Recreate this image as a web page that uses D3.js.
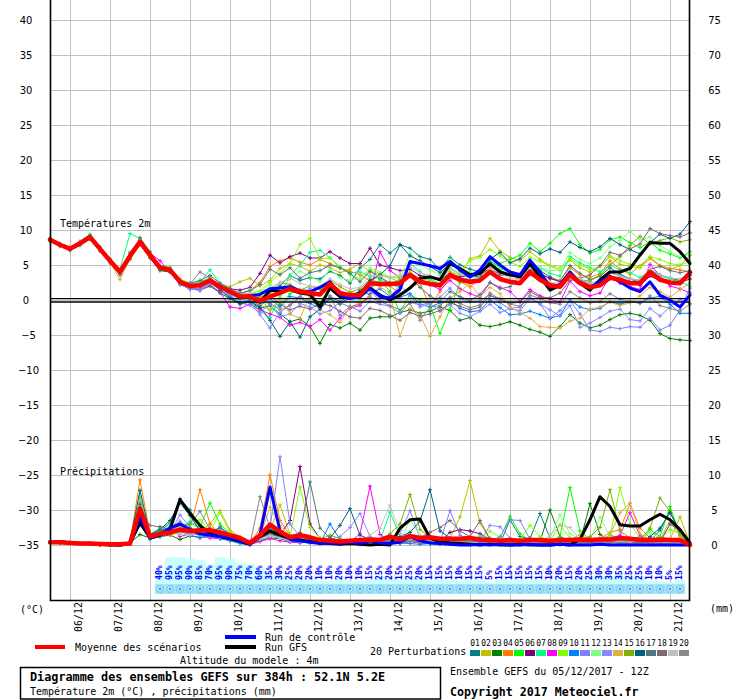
<!DOCTYPE html>
<html><head><meta charset="utf-8">
<script src="https://cdn.jsdelivr.net/npm/d3@7"></script>
<style>body{margin:0;background:#fff}svg{display:block}</style>
</head><body>
<script>
// ---------- DATA ----------
const dates = ["06/12","07/12","08/12","09/12","10/12","11/12","12/12","13/12","14/12","15/12","16/12","17/12","18/12","19/12","20/12","21/12"];
const leftTicks = [40,35,30,25,20,15,10,5,0,-5,-10,-15,-20,-25,-30,-35];
const rightTicks = [75,70,65,60,55,50,45,40,35,30,25,20,15,10,5,0];
const memberNames = ["01","02","03","04","05","06","07","08","09","10","11","12","13","14","15","16","17","18","19","20"];
const memberColors = ["#008080","#c0c000","#008000","#ff8000","#00ff00","#800080","#00ff80","#ff00ff","#80ff00","#0080ff","#8080ff","#80ff80","#8888ff","#e0b040","#80b000","#006080","#507880","#806870","#c0c0c0","#888888"];
const pctLabels = [40,95,95,90,85,70,95,90,75,70,60,35,30,25,20,20,10,10,20,10,10,15,25,20,15,25,20,15,15,15,10,15,15,5,15,15,15,15,15,10,20,15,20,25,30,30,35,25,25,10,10,5,15];

// 2m temperature (°C), every 6h from 05/12 12Z
const tMean = [8.6,7.9,7.3,8.1,9.0,7.3,5.6,4.0,6.3,8.3,6.4,4.6,4.3,2.6,2.0,2.1,2.8,1.9,1.2,0.5,0.5,-0.1,0.5,1.0,1.6,1.2,1.0,0.8,2.3,1.0,0.7,0.7,2.4,2.3,2.3,2.4,3.6,2.6,2.3,2.1,3.6,2.9,2.6,2.8,4.0,3.0,2.6,2.4,4.0,2.9,2.1,1.9,3.6,2.4,1.8,2.1,3.2,2.9,2.4,2.4,4.0,2.9,2.5,2.4,3.9];
const tControl = [8.6,7.9,7.3,8.1,9.0,7.3,5.6,4.0,6.3,8.3,6.4,4.6,4.3,2.6,2.0,2.1,2.8,1.9,1.2,0.5,0.6,0.8,1.6,1.7,1.9,1.3,1.2,1.8,2.6,0.7,0.2,0.5,1.7,0.5,0.3,1.5,5.5,5.2,4.9,4.5,5.5,4.3,3.3,4.3,6.2,5.0,4.0,3.6,5.7,4.0,1.9,2.2,4.0,2.4,1.8,2.6,3.4,2.6,1.7,1.2,2.6,0.7,0.0,-1.0,0.7];
const tGfs = [8.7,7.9,7.3,8.1,9.0,7.3,5.6,4.0,6.3,8.3,6.4,4.6,4.3,2.6,2.0,2.1,2.8,1.9,1.2,0.5,0.4,-0.3,1.4,1.2,1.5,1.0,0.8,-1.0,1.7,0.5,0.4,1.0,1.7,0.7,0.0,0.7,1.7,3.1,3.3,2.9,5.2,4.5,3.6,3.8,5.2,4.0,3.6,3.3,5.2,3.3,1.4,2.1,3.6,2.4,1.4,2.9,4.0,4.0,4.5,6.4,8.2,8.1,8.1,6.9,5.2];
const t01 = [8.7,7.8,7.2,8.3,9.3,7.5,5.4,3.8,6.8,8.6,6.2,4.3,4.0,2.9,2.2,2.6,3.1,2.0,0.9,0.1,0.8,-0.5,1.2,2.0,3.5,2.8,3.2,3.0,4.1,3.5,2.4,4.6,5.8,7.9,6.7,7.9,7.4,6.2,5.8,4.3,6.1,5.0,4.4,4.0,5.5,4.8,3.9,3.6,5.4,4.2,3.3,2.7,4.9,3.8,2.9,3.4,4.6,3.7,3.0,2.5,4.3,3.6,3.1,2.8,3.5];
const t02 = [8.5,8.0,7.5,8.0,8.8,7.1,5.7,4.3,6.0,8.0,6.6,4.9,4.6,3.0,2.4,2.2,3.0,2.3,1.9,2.6,3.1,2.0,2.8,4.5,5.2,4.8,4.1,5.0,4.6,3.9,4.4,5.2,4.0,3.6,3.2,2.5,3.9,3.1,2.8,2.2,4.1,3.5,5.9,6.3,8.8,7.0,6.1,5.6,6.9,5.8,4.9,4.2,5.7,4.6,4.0,4.8,6.2,5.1,4.8,4.6,5.9,4.9,4.4,4.9,6.4];
const t03 = [8.8,7.9,7.1,7.8,8.7,7.0,5.3,3.6,5.8,8.0,6.0,4.2,4.0,2.2,1.6,1.4,2.0,1.0,0.2,-0.6,-0.3,-1.2,-0.8,-2.0,-3.1,-2.7,-3.8,-6.2,-3.5,-4.0,-3.3,-4.3,-2.6,-2.4,-2.4,-1.8,-1.4,-1.9,-1.6,-1.0,-1.5,-2.9,-2.5,-3.6,-3.8,-3.5,-3.1,-3.6,-4.2,-4.6,-5.2,-3.8,-2.1,-3.3,-4.0,-3.6,-2.8,-2.1,-1.9,-2.2,-2.9,-4.8,-5.5,-5.7,-5.8];
const t04 = [8.6,7.7,7.4,8.2,9.1,7.4,5.8,4.1,6.2,8.2,6.5,4.7,4.5,2.8,2.1,2.3,2.9,2.2,1.5,0.7,1.4,2.5,4.8,5.6,6.0,5.4,5.0,5.8,5.2,4.6,4.1,3.6,2.7,3.5,2.0,0.9,1.8,2.4,-0.9,1.2,3.2,2.6,1.9,3.0,4.7,4.2,3.6,3.1,4.5,3.9,3.0,2.8,4.6,3.6,3.2,3.8,5.6,4.4,3.7,4.9,6.1,4.9,4.5,4.3,4.0];
const t05 = [8.5,7.9,7.4,8.0,8.9,7.2,5.5,3.9,6.5,8.5,6.3,4.4,4.2,2.5,1.8,2.0,2.6,1.7,1.0,0.3,0.6,0.2,-1.5,-0.8,0.9,1.5,0.6,-0.4,1.8,0.5,0.9,0.2,1.5,2.9,1.2,-1.7,0.8,0.0,-0.6,-4.8,-1.3,2.5,3.4,4.1,6.0,5.2,5.8,6.4,8.1,6.9,8.1,9.5,10.2,7.9,6.7,7.2,8.6,9.0,8.2,7.5,8.3,7.1,6.6,6.0,6.9];
const t06 = [8.7,8.0,7.3,8.1,9.0,7.4,5.5,3.9,6.4,8.4,6.5,4.6,4.4,2.7,2.1,2.3,3.0,2.1,1.6,1.4,1.8,3.8,6.4,5.3,6.2,6.7,6.0,6.0,6.9,6.0,5.2,5.2,7.4,5.0,4.6,4.2,4.4,3.5,3.3,3.0,3.7,3.3,3.4,3.6,4.5,3.6,3.5,3.2,4.4,3.7,3.1,2.6,3.5,2.8,2.1,2.3,3.1,2.5,2.6,2.1,3.4,2.8,2.6,2.5,3.0];
const t07 = [8.6,7.8,7.5,8.4,9.4,7.6,5.9,4.4,9.5,8.8,6.4,4.4,4.2,2.7,2.4,2.5,4.3,2.4,1.3,0.2,-0.2,-1.6,-2.5,0.6,3.5,5.0,6.8,7.1,6.0,4.6,3.9,4.0,3.4,3.0,2.2,1.8,5.2,4.1,3.0,2.3,4.6,3.7,3.2,3.5,5.6,4.5,3.9,3.3,4.7,4.6,3.8,3.4,6.2,5.3,4.6,4.0,5.0,4.3,3.9,3.2,4.2,3.5,3.0,2.6,2.0];
const t08 = [8.6,7.9,7.3,8.0,8.8,7.2,5.6,4.1,6.1,8.0,6.7,5.6,4.0,2.4,1.7,1.6,2.2,1.1,-1.0,-1.2,-0.6,-1.4,-2.0,-2.5,-3.6,-3.2,-3.8,-2.8,-4.3,-2.6,-1.2,-0.8,0.8,6.9,4.2,3.2,3.9,2.6,2.2,1.5,2.8,1.6,0.9,0.4,2.5,1.8,1.2,-0.2,1.5,0.6,0.1,-0.3,2.7,1.2,0.6,1.0,3.4,2.4,1.9,1.5,5.1,3.5,2.0,1.6,1.0];
const t09 = [8.4,7.8,7.4,8.2,9.2,7.5,5.7,4.2,6.6,8.7,6.8,4.8,4.7,2.9,2.2,2.4,3.2,2.0,1.1,0.4,0.9,1.3,2.5,3.8,5.2,7.9,8.8,5.9,6.0,4.8,3.6,3.0,4.3,3.8,3.1,3.4,4.0,2.9,2.5,2.2,3.5,4.1,5.6,6.1,7.2,6.3,5.4,4.8,6.1,5.5,4.9,4.6,5.9,5.0,4.4,4.8,6.3,5.6,5.1,4.7,6.2,5.8,5.2,5.0,5.5];
const t10 = [8.7,7.9,7.2,8.0,8.9,7.3,5.6,3.9,6.2,8.1,6.3,4.5,4.2,2.5,1.9,2.0,2.7,1.8,0.7,-0.4,0.0,-0.8,0.2,-1.0,0.5,0.3,-0.5,-1.2,0.4,-0.2,0.6,1.2,0.8,1.6,0.5,0.4,0.9,-0.6,-1.0,-0.4,0.0,-1.2,-1.7,-1.5,0.0,-1.1,-2.1,-2.0,-1.6,-2.1,-2.6,-2.2,0.0,-1.0,-1.4,-1.2,-0.2,-0.6,-0.2,-0.4,0.3,0.5,-0.6,-1.9,-1.9];
const t11 = [8.5,7.7,7.1,7.9,8.8,7.0,5.4,3.7,6.0,7.9,6.1,4.4,4.1,2.3,1.5,1.7,2.4,1.5,0.4,-0.5,-0.3,-2.1,-4.0,-1.8,-0.7,0.4,1.7,-1.2,0.5,-2.2,-0.9,-1.6,-0.2,-0.6,-0.9,-1.9,-0.3,-0.7,-0.4,0.4,1.7,0.2,-0.3,-0.1,0.8,-0.4,-1.3,-1.5,0.2,-0.5,-2.6,-1.5,-0.1,-2.0,-4.3,-4.5,-3.9,-4.1,-3.8,-3.9,-2.6,-4.3,-3.6,-1.4,1.7];
const t12 = [8.6,8.0,7.4,8.2,9.1,7.4,5.7,4.2,6.5,8.4,6.4,4.6,4.4,2.8,2.1,2.2,3.0,2.0,1.3,0.9,1.5,1.0,2.2,1.5,3.0,4.1,3.4,2.6,4.4,3.2,2.8,3.1,4.6,4.0,3.3,3.0,6.7,5.1,4.3,3.5,5.8,4.6,4.0,3.6,5.8,4.7,4.1,3.7,5.4,4.7,4.2,4.3,6.8,5.8,5.2,6.0,7.6,8.5,9.8,8.6,9.0,7.8,6.9,6.2,6.5];
const t13 = [8.7,7.8,7.2,8.0,8.9,7.1,5.5,3.8,6.1,8.0,6.2,4.5,4.1,2.4,1.7,1.3,2.4,1.6,0.6,-0.4,-0.8,-1.8,-0.6,-2.4,-2.0,-0.5,-1.0,-2.0,-1.5,-0.3,0.2,0.8,1.4,-0.2,0.5,2.1,0.6,-1.0,-0.5,-1.6,-0.7,-1.9,-2.4,-1.6,-0.6,-1.8,-1.2,-1.0,0.4,-0.6,-1.4,-2.3,-0.8,-3.9,-3.3,-2.5,-1.6,-1.3,-2.8,-3.0,-1.2,-2.3,-1.0,0.1,-0.5];
const t14 = [8.8,8.1,7.6,8.3,9.0,7.2,5.4,2.9,5.9,8.1,6.5,4.7,4.3,2.7,2.0,2.2,2.9,1.8,1.0,0.4,0.1,-0.6,-1.5,0.3,-2.0,-2.6,0.7,-1.4,-2.1,-3.2,-1.0,-0.4,0.6,1.9,0.9,-5.2,-1.2,-2.1,-5.2,-2.4,0.3,1.2,2.4,0.5,1.8,0.9,-1.0,-1.8,-2.6,-3.8,-3.9,-4.0,-3.0,-2.6,-1.3,-1.0,-0.3,-0.8,-0.4,0.6,1.8,1.2,0.4,1.5,2.4];
const t15 = [8.5,7.9,7.4,8.1,9.0,7.3,5.6,4.0,6.3,8.2,6.4,4.6,4.3,2.6,2.0,2.1,2.8,1.9,1.2,0.8,0.9,0.4,1.0,2.5,2.2,1.4,2.0,1.5,2.8,1.9,1.1,1.6,3.0,2.4,2.2,2.9,3.5,2.6,2.4,2.0,3.8,3.0,2.8,3.0,4.4,3.2,2.7,2.5,3.6,2.8,2.2,2.0,3.4,2.9,2.7,3.6,5.0,6.2,7.8,9.1,8.0,8.5,8.9,8.3,8.6];
const t16 = [8.6,7.9,7.3,8.2,9.1,7.4,5.7,4.0,6.3,8.3,6.4,4.5,4.2,2.6,1.9,2.0,2.6,1.4,0.3,-0.5,-0.2,-1.0,-2.9,-5.2,-3.1,-5.3,-2.4,-1.3,0.2,-0.6,0.4,1.3,2.8,3.6,4.9,7.9,6.3,5.6,4.8,3.9,5.1,4.2,3.6,3.2,5.8,6.8,5.3,5.9,7.4,6.6,7.3,6.8,8.3,7.5,6.9,7.6,8.8,7.9,7.2,6.6,8.2,9.4,8.8,9.4,11.2];
const t17 = [8.6,7.8,7.2,8.0,9.1,7.5,5.8,3.9,6.0,8.9,6.9,4.9,4.6,2.5,2.4,2.8,3.5,2.4,1.6,1.0,1.3,2.2,4.4,3.6,4.6,3.1,3.9,4.2,5.0,4.6,3.8,2.6,4.1,3.2,2.5,2.0,3.4,1.8,0.6,-0.2,1.2,0.5,-0.1,0.8,2.5,1.6,1.9,3.4,4.6,3.2,2.3,1.9,3.8,2.9,2.4,2.7,4.0,3.4,3.0,2.8,4.4,4.8,4.2,3.9,4.2];
const t18 = [8.7,8.0,7.3,8.1,8.9,7.2,5.6,4.0,6.4,8.3,6.4,4.6,4.3,2.6,2.1,2.0,2.6,1.7,1.1,0.6,0.2,-0.4,0.6,-0.6,-1.4,-0.9,-1.3,-0.5,-0.8,-1.6,-2.4,-2.6,-1.2,-1.5,-2.2,-2.9,-1.8,-2.3,-2.0,-1.5,-0.4,-0.9,-1.4,-1.0,0.6,0.2,-0.5,-0.3,1.2,0.4,0.3,1.0,2.8,3.1,3.6,4.9,6.8,6.4,7.3,8.0,10.2,9.5,9.2,9.0,9.6];
const t19 = [8.6,7.9,7.4,8.1,9.0,7.3,5.6,4.0,6.3,8.4,6.5,4.7,4.4,2.7,2.1,2.2,2.9,2.0,1.3,0.7,1.0,0.8,1.7,2.5,3.1,2.4,2.0,1.9,3.0,2.2,1.6,1.8,3.6,3.4,3.2,3.6,4.8,3.9,3.5,3.1,4.4,3.7,3.2,3.1,4.5,3.8,3.1,3.0,4.6,3.6,2.5,2.4,4.1,3.0,2.4,2.6,3.9,3.4,3.0,2.9,4.5,3.6,3.2,3.0,3.8];
const t20 = [8.5,7.8,7.2,8.0,8.9,7.3,5.7,4.1,6.2,8.2,6.6,4.8,4.5,2.8,2.3,4.0,3.1,2.1,1.0,0.2,0.4,-0.2,-0.5,-1.4,-0.8,0.5,-0.2,-0.9,0.6,-0.4,-1.0,-0.6,0.4,-0.2,-0.8,-1.4,-0.5,-2.9,-1.0,-0.8,0.4,-0.5,-1.1,-0.7,1.0,0.1,-0.6,-0.9,0.7,0.2,-0.4,-0.6,1.2,0.3,-0.4,-0.2,0.9,0.1,-0.2,-0.5,0.6,-0.8,-1.2,-1.6,-0.6];

// precipitation (mm / 6h)
const pMean = [0.4,0.4,0.3,0.2,0.2,0.15,0.1,0.1,0.2,5.2,1.2,1.6,1.8,2.2,2.0,2.1,2.1,1.8,1.4,1.0,0.3,1.4,2.9,1.9,1.1,1.4,1.1,0.7,0.6,0.5,0.6,0.7,0.8,0.7,1.2,0.8,1.3,1.0,1.1,0.9,0.9,0.9,1.0,0.8,0.7,0.6,0.7,0.6,0.7,0.7,0.6,0.7,0.7,0.8,0.7,0.8,0.8,1.0,0.9,0.7,0.7,0.8,0.7,0.7,0.0];
const pControl = [0.4,0.4,0.3,0.2,0.2,0.1,0.1,0.0,0.2,4.0,1.0,1.6,2.4,3.0,2.2,1.6,1.4,1.2,1.0,0.6,0.1,1.5,8.3,2.0,0.8,0.6,0.4,0.2,0.3,0.2,0.4,0.2,0.6,0.3,0.2,0.4,1.2,0.6,0.3,0.2,0.1,0.0,0.0,0.1,0.0,0.1,0.0,0.0,0.1,0.0,0.0,0.1,0.0,0.0,0.0,0.1,0.0,0.0,0.0,0.0,0.0,0.0,0.0,0.0,0.0];
const pGfs = [0.4,0.5,0.3,0.2,0.2,0.1,0.0,0.0,0.2,3.2,1.0,1.4,2.2,6.5,4.5,2.8,1.6,1.2,0.9,0.5,0.1,1.2,2.0,1.4,0.9,0.7,0.5,0.3,0.2,0.1,0.2,0.1,0.0,0.1,0.0,2.4,3.6,3.7,1.0,0.5,0.3,0.2,0.1,0.0,0.1,0.0,0.0,0.1,0.0,0.0,0.0,0.1,0.0,0.8,3.6,6.9,5.5,2.9,2.7,2.7,3.6,4.4,3.6,2.2,0.3];
const p01 = [0.4,0.4,0.3,0.2,0.2,0.1,0.1,0.0,0.4,6.0,1.4,2.0,3.1,6.6,5.0,2.6,1.8,2.4,1.6,0.9,0.2,1.1,2.8,1.5,0.8,1.2,0.9,0.4,0.3,0.2,0.5,0.4,0.6,0.3,0.9,0.5,1.1,0.7,0.9,0.4,0.6,0.5,0.7,0.3,0.4,0.2,3.6,1.2,0.9,4.5,1.0,0.3,0.5,0.7,0.3,0.2,1.4,0.5,0.8,0.3,0.6,2.1,4.9,1.4,0.0];
const p02 = [0.4,0.3,0.3,0.2,0.1,0.1,0.1,0.1,0.3,5.5,1.0,1.3,1.6,2.0,2.4,1.8,3.0,4.9,2.1,1.2,0.3,1.6,2.1,5.7,1.5,1.0,0.8,0.4,0.6,0.5,0.3,0.2,1.0,0.6,0.4,0.9,1.4,0.6,0.8,0.5,0.9,4.0,9.2,3.1,0.8,0.3,0.5,0.3,0.6,0.4,0.2,0.3,0.6,1.5,0.7,0.4,1.1,0.5,0.3,0.4,0.6,1.2,0.8,4.0,0.2];
const p03 = [0.4,0.4,0.3,0.2,0.2,0.1,0.1,0.1,0.3,1.5,1.0,1.2,1.4,0.8,1.3,1.1,1.2,1.0,0.8,0.6,0.1,0.6,1.0,0.9,0.5,0.7,0.4,0.3,0.5,0.3,0.2,0.1,0.3,0.2,0.4,0.2,0.5,0.3,0.2,0.1,0.3,0.2,0.4,0.1,0.2,0.3,0.4,0.2,1.0,0.5,5.0,1.2,0.6,0.4,5.9,1.5,0.6,0.4,0.3,0.2,0.5,0.3,0.2,0.4,0.0];
const p04 = [0.4,0.4,0.3,0.2,0.2,0.2,0.1,0.1,0.4,9.3,1.6,2.0,1.4,1.8,2.5,7.9,3.0,1.6,1.2,0.8,0.2,2.4,10.0,3.5,1.4,1.0,0.8,0.6,0.4,0.5,0.3,0.6,0.4,0.3,0.9,0.4,1.2,0.7,0.5,0.3,0.2,0.4,0.6,0.3,0.2,0.4,0.3,0.2,0.4,0.3,0.2,0.5,0.4,0.6,0.3,0.9,1.8,2.2,5.9,2.4,1.0,0.5,3.0,2.2,0.1];
const p05 = [0.4,0.4,0.3,0.2,0.2,0.1,0.1,0.1,0.3,3.0,1.4,2.2,1.8,2.0,3.1,2.6,6.0,3.0,1.6,1.0,0.2,1.0,1.5,1.2,0.8,0.6,1.0,0.5,0.4,0.3,0.2,0.6,0.5,0.4,0.3,0.6,0.8,0.4,0.5,0.3,0.5,0.6,0.4,0.8,0.5,1.0,4.1,1.6,0.6,0.4,0.5,1.2,8.2,2.0,0.8,0.4,1.5,0.8,0.6,0.4,2.2,1.2,5.5,1.5,0.0];
const p06 = [0.4,0.3,0.3,0.2,0.2,0.1,0.1,0.1,0.3,4.8,1.2,1.5,1.9,2.2,1.8,1.6,2.4,1.5,1.2,0.8,0.2,1.2,2.0,1.5,3.5,11.2,3.0,0.9,0.6,0.4,0.3,0.5,0.8,0.6,0.4,0.3,0.7,0.5,0.6,0.4,1.8,2.2,2.0,1.6,0.8,0.5,0.6,0.4,0.5,0.3,0.4,0.2,0.5,0.3,0.4,0.2,0.6,0.4,0.7,1.2,0.8,0.5,0.6,0.4,0.0];
const p07 = [0.4,0.4,0.3,0.2,0.2,0.1,0.1,0.1,0.4,7.0,1.5,2.5,3.0,2.4,3.4,2.2,1.8,2.0,1.5,0.9,0.3,1.5,2.5,1.8,1.0,1.3,0.9,0.6,0.4,0.3,0.6,0.5,1.0,0.6,4.7,1.2,0.8,0.6,0.5,0.4,0.6,0.8,0.5,1.3,1.0,0.6,0.4,0.3,0.5,0.4,0.3,0.6,0.5,0.4,0.3,0.8,0.6,0.5,0.4,0.3,0.5,0.4,0.3,0.2,0.0];
const p08 = [0.4,0.4,0.3,0.2,0.2,0.1,0.1,0.1,0.3,4.0,1.0,1.4,2.6,1.2,1.6,1.4,1.0,0.9,0.7,0.5,0.1,0.5,0.9,0.6,0.4,0.3,0.5,0.2,0.3,0.2,0.4,1.6,8.4,1.5,0.6,0.4,0.5,0.3,0.4,0.2,0.3,0.5,0.4,0.2,0.3,0.2,0.3,0.1,0.2,0.3,0.4,0.2,0.3,0.5,0.4,0.6,0.9,1.4,4.6,1.3,0.6,0.5,0.3,0.2,0.0];
const p09 = [0.4,0.4,0.3,0.2,0.2,0.1,0.1,0.1,0.3,5.0,1.2,1.8,2.4,1.6,2.8,3.6,2.0,4.6,1.8,1.0,0.3,1.4,3.0,2.0,1.2,8.3,2.5,1.0,0.6,0.4,0.3,0.5,0.4,0.8,0.6,0.5,0.9,0.7,0.4,0.5,0.6,0.3,0.5,0.4,2.0,1.1,0.6,0.8,2.8,1.2,0.6,2.9,1.0,0.5,0.4,0.7,1.2,8.2,3.0,1.0,0.6,0.9,2.2,1.6,0.2];
const p10 = [0.4,0.4,0.3,0.2,0.2,0.1,0.1,0.1,0.3,3.5,0.8,1.2,1.6,2.0,1.4,1.0,1.3,0.9,0.6,0.2,0.0,0.8,1.6,1.0,0.6,0.4,0.3,0.2,3.0,0.8,0.4,0.2,0.6,0.4,0.2,0.3,0.2,0.1,0.2,0.3,0.1,0.2,0.1,0.0,0.1,0.2,0.1,0.0,0.1,0.2,0.1,0.0,0.2,0.1,0.3,0.2,0.1,0.2,0.1,0.2,0.1,0.2,0.1,0.1,0.0];
const p11 = [0.4,0.4,0.3,0.2,0.2,0.1,0.1,0.1,0.3,4.2,1.2,1.6,2.4,3.4,2.2,1.6,1.4,1.2,1.0,0.6,0.2,1.0,2.4,12.6,3.0,1.2,0.8,0.6,0.5,0.4,0.3,0.6,0.5,0.4,0.8,1.6,4.9,1.0,0.6,0.4,4.9,1.4,0.8,1.0,0.6,1.2,3.6,3.5,0.8,0.5,0.3,0.4,0.6,0.4,0.3,0.5,0.4,0.3,0.6,0.4,0.3,0.5,0.4,0.3,0.0];
const p12 = [0.4,0.4,0.3,0.2,0.2,0.1,0.1,0.1,0.3,3.8,1.0,1.6,2.0,2.6,1.8,1.4,1.6,1.2,0.9,0.5,0.2,0.9,1.4,1.0,0.6,0.8,0.5,0.4,0.6,0.3,0.4,0.5,0.3,0.4,0.6,0.5,3.6,1.4,0.8,0.6,0.5,0.4,0.6,0.4,0.3,0.5,0.6,0.4,0.8,0.6,1.0,4.3,1.6,0.8,0.7,4.0,1.2,0.8,0.6,0.5,1.8,1.0,0.6,0.8,0.0];
const p13 = [0.4,0.4,0.3,0.2,0.2,0.1,0.1,0.1,0.3,3.2,1.1,1.4,1.8,4.3,2.5,1.5,1.2,1.0,0.8,0.6,0.2,0.8,1.2,1.0,0.7,0.5,0.4,0.6,0.8,1.2,2.5,4.5,1.2,0.6,0.5,0.4,0.6,0.5,0.4,0.6,0.5,0.4,0.3,0.5,2.8,2.6,1.0,0.6,0.4,0.5,0.3,0.4,0.3,0.5,0.4,0.3,0.5,0.4,0.3,0.4,0.3,0.5,0.4,0.3,0.0];
const p14 = [0.4,0.4,0.3,0.2,0.2,0.1,0.1,0.1,0.3,6.5,1.3,1.8,2.2,2.8,2.0,1.6,1.4,1.6,1.3,0.7,0.2,1.3,5.4,2.8,1.2,1.0,0.7,0.5,0.4,0.6,0.3,0.5,0.4,0.7,0.5,0.8,0.6,0.4,0.7,0.5,0.6,0.4,0.5,0.3,0.4,0.2,0.3,0.4,0.5,0.3,0.2,0.4,0.3,0.6,0.5,0.8,1.4,4.6,6.0,1.6,0.7,0.6,3.6,1.2,0.0];
const p15 = [0.4,0.4,0.3,0.2,0.2,0.1,0.1,0.1,0.3,4.4,1.1,1.5,2.0,1.8,2.2,1.7,1.5,1.3,1.0,0.6,0.1,1.0,1.8,1.3,0.9,0.6,0.5,0.8,1.4,0.9,0.6,0.4,0.5,0.7,1.6,3.0,7.2,2.2,1.0,0.6,0.5,0.3,0.4,0.6,0.3,0.2,0.4,0.3,0.5,0.4,0.3,0.2,0.5,0.6,1.2,2.5,7.9,2.0,1.0,0.8,2.4,6.7,4.8,1.5,0.0];
const p16 = [0.4,0.4,0.3,0.2,0.2,0.1,0.1,0.1,0.4,7.8,1.5,2.2,3.5,6.0,4.2,2.0,1.6,1.8,1.4,0.8,0.2,1.2,2.4,1.5,0.9,1.6,0.8,0.6,1.0,2.8,5.2,1.4,0.8,0.6,1.0,1.2,1.8,3.4,7.9,2.0,1.0,0.6,0.5,0.8,0.6,0.4,0.3,0.6,0.5,0.4,0.3,0.2,0.5,0.6,0.4,0.3,0.6,0.5,0.4,0.3,1.2,2.4,4.6,2.0,0.0];
const p17 = [0.4,0.4,0.3,0.2,0.2,0.1,0.1,0.1,0.3,5.8,1.4,2.0,2.6,3.0,2.4,1.8,1.6,2.6,1.4,0.9,0.2,1.2,1.6,1.4,1.0,1.8,9.0,2.4,1.0,0.6,0.5,0.4,0.6,0.5,0.7,0.4,0.6,0.5,0.8,0.4,0.3,0.5,0.4,0.6,0.5,0.4,0.3,0.5,0.4,0.6,0.3,0.5,0.4,0.3,0.6,0.4,0.3,0.5,0.4,0.3,0.6,0.4,3.0,2.0,0.0];
const p18 = [0.4,0.4,0.3,0.2,0.2,0.1,0.1,0.1,0.3,4.6,2.8,2.6,2.2,2.0,1.8,1.5,1.6,1.3,1.1,0.7,0.2,1.0,1.6,1.2,0.8,0.7,0.5,0.4,0.6,0.5,0.4,0.3,0.6,0.5,0.4,0.6,0.5,1.0,1.8,2.5,3.5,2.0,1.2,3.5,0.8,0.5,0.4,0.6,0.5,0.4,0.3,0.5,0.4,0.3,0.5,0.4,0.3,0.6,0.4,0.5,0.3,0.4,0.3,0.2,0.0];
const p19 = [0.4,0.4,0.3,0.2,0.2,0.1,0.1,0.1,0.3,3.6,1.2,1.5,1.8,1.6,1.4,1.8,2.0,1.7,1.4,0.8,0.2,0.9,1.3,1.0,0.7,0.6,0.5,0.4,0.5,0.4,0.3,0.6,1.4,2.4,5.7,1.6,0.8,0.6,0.5,0.4,0.6,0.5,0.4,0.3,0.5,0.4,0.6,0.5,0.4,0.3,1.5,2.8,2.5,0.8,0.5,0.4,0.6,0.5,0.4,0.6,0.5,0.4,0.3,0.2,0.0];
const p20 = [0.4,0.4,0.3,0.2,0.2,0.1,0.1,0.1,0.3,2.8,1.0,1.4,2.0,2.8,3.0,4.8,2.2,1.6,1.2,0.8,0.2,6.9,2.4,1.6,1.0,0.8,0.6,0.5,0.4,0.6,0.5,0.4,0.3,0.5,0.4,0.3,0.6,0.4,0.5,0.3,0.4,0.6,0.5,0.4,0.3,0.2,0.4,0.3,0.5,0.4,0.3,0.2,0.4,0.3,0.2,0.3,0.4,0.3,0.2,0.3,0.2,0.3,0.2,0.1,0.0];

const tMembers = [t01,t02,t03,t04,t05,t06,t07,t08,t09,t10,t11,t12,t13,t14,t15,t16,t17,t18,t19,t20];
const pMembers = [p01,p02,p03,p04,p05,p06,p07,p08,p09,p10,p11,p12,p13,p14,p15,p16,p17,p18,p19,p20];

// ---------- DRAWING ----------
const W = 740, H = 700;
const mono = "'DejaVu Sans Mono', monospace";
const sans = "'DejaVu Sans', sans-serif";
const svg = d3.select("body").append("svg").attr("width", W).attr("height", H);
svg.append("rect").attr("width", W).attr("height", H).attr("fill", "#fff");

const x = d3.scaleLinear().domain([0, 384]).range([50, 690]);
const yT = d3.scaleLinear().domain([-35, 40]).range([545, 20]);
const yP = d3.scaleLinear().domain([0, 75]).range([545, 20]);
const hourOf = i => i * 6;
const dateHours = dates.map((d, k) => 12 + 24 * k);
const pctHours = pctLabels.map((p, k) => 66 + 6 * k);
const pctBar = d3.scaleLinear().domain([0, 100]).range([584, 556]);

// grid
const grid = svg.append("g").attr("stroke", "#c0c0c0").attr("stroke-width", 1);
grid.selectAll("line.h").data(leftTicks).join("line")
  .attr("x1", 50).attr("x2", 690).attr("y1", d => Math.round(yT(d)) + 0.5).attr("y2", d => Math.round(yT(d)) + 0.5);
grid.selectAll("line.v").data(dateHours).join("line")
  .attr("x1", d => Math.round(x(d)) + 0.5).attr("x2", d => Math.round(x(d)) + 0.5).attr("y1", 0).attr("y2", 600);

// precipitation probability bars + labels + snow band
svg.append("g").selectAll("rect").data(pctLabels).join("rect")
  .attr("x", (d, k) => x(pctHours[k]) - 5).attr("width", 10)
  .attr("y", d => pctBar(d)).attr("height", d => 584 - pctBar(d))
  .attr("fill", "#c8ffff");

const defs = svg.append("defs");
const pat = defs.append("pattern").attr("id", "snow").attr("patternUnits", "userSpaceOnUse")
  .attr("x", 155).attr("y", 584).attr("width", 10).attr("height", 10);
pat.append("rect").attr("width", 10).attr("height", 10).attr("fill", "#a8e4f8");
pat.append("circle").attr("cx", 5).attr("cy", 5).attr("r", 4).attr("fill", "#6cc8f0");
pat.append("path").attr("d", "M5,1.5V8.5M1.5,5H8.5M2.5,2.5L7.5,7.5M7.5,2.5L2.5,7.5").attr("stroke", "#e8f8ff").attr("stroke-width", 1);
pat.append("circle").attr("cx", 5).attr("cy", 5).attr("r", 1.2).attr("fill", "#3a9ee0");
svg.append("rect").attr("x", x(pctHours[0]) - 5).attr("y", 584)
  .attr("width", x(pctHours[pctHours.length - 1]) - x(pctHours[0]) + 10).attr("height", 10)
  .attr("fill", "url(#snow)");

svg.append("g").selectAll("text").data(pctLabels).join("text")
  .attr("transform", (d, k) => `translate(${x(pctHours[k])},580) rotate(-90)`)
  .attr("x", 0).attr("y", 2)
  .attr("font-family", mono).attr("font-size", 8.2).attr("font-weight", "bold")
  .attr("fill", "#0000ff").attr("text-anchor", "start")
  .text(d => d + "%");

// member lines
const lineT = d3.line().x((d, i) => x(hourOf(i))).y(d => yT(d));
const lineP = d3.line().x((d, i) => x(hourOf(i))).y(d => yP(d));
const crossPath = (vals, ys) => vals.map((v, i) => {
  const cx = x(hourOf(i)), cy = ys(v);
  return `M${cx - 2},${cy}h4M${cx},${cy - 2}v4`;
}).join("");

const mg = svg.append("g").attr("fill", "none");
tMembers.forEach((vals, m) => {
  mg.append("path").attr("d", lineT(vals)).attr("stroke", memberColors[m]).attr("stroke-width", 1);
  mg.append("path").attr("d", crossPath(vals, yT)).attr("stroke", memberColors[m]).attr("stroke-width", 1);
});
pMembers.forEach((vals, m) => {
  mg.append("path").attr("d", lineP(vals)).attr("stroke", memberColors[m]).attr("stroke-width", 1);
  mg.append("path").attr("d", crossPath(vals, yP)).attr("stroke", memberColors[m]).attr("stroke-width", 1);
});

// zero double line
svg.append("line").attr("x1", 50).attr("x2", 690).attr("y1", yT(0) - 1.3).attr("y2", yT(0) - 1.3).attr("stroke", "#000").attr("stroke-width", 1.3);
svg.append("line").attr("x1", 50).attr("x2", 690).attr("y1", yT(0) + 2).attr("y2", yT(0) + 2).attr("stroke", "#000").attr("stroke-width", 1.3);

// GFS, control, mean
const bold = svg.append("g").attr("fill", "none").attr("stroke-linejoin", "round").attr("stroke-linecap", "round");
bold.append("path").attr("d", lineT(tGfs)).attr("stroke", "#000").attr("stroke-width", 3);
bold.append("path").attr("d", lineP(pGfs)).attr("stroke", "#000").attr("stroke-width", 3);
bold.append("path").attr("d", lineT(tControl)).attr("stroke", "#0000ff").attr("stroke-width", 3);
bold.append("path").attr("d", lineP(pControl)).attr("stroke", "#0000ff").attr("stroke-width", 3);
bold.append("path").attr("d", lineT(tMean)).attr("stroke", "#ff0000").attr("stroke-width", 4.5);
bold.append("path").attr("d", lineP(pMean)).attr("stroke", "#ff0000").attr("stroke-width", 4.5);

// frame
svg.append("path").attr("d", "M50.5,0V600.5H689.5V0").attr("fill", "none").attr("stroke", "#000").attr("stroke-width", 1.6);

// axes
const axL = svg.append("g").attr("transform", "translate(50,0)")
  .call(d3.axisLeft(yT).tickValues(leftTicks).tickSize(0).tickFormat(d3.format("d")));
axL.select(".domain").remove();
axL.selectAll("text").attr("x", d => d < 0 ? -21.5 : -24).attr("text-anchor", "middle")
  .attr("font-family", sans).attr("font-size", 10).attr("fill", "#000");

const axR = svg.append("g").attr("transform", "translate(690,0)")
  .call(d3.axisRight(yP).tickValues(rightTicks).tickSize(0).tickFormat(d3.format("d")));
axR.select(".domain").remove();
axR.selectAll("text").attr("x", 24.5).attr("text-anchor", "middle")
  .attr("font-family", sans).attr("font-size", 10).attr("fill", "#000");

const axB = svg.append("g").attr("transform", "translate(0,600)")
  .call(d3.axisBottom(x).tickValues(dateHours).tickSize(0).tickFormat((d, i) => dates[i]));
axB.select(".domain").remove();
axB.selectAll("text").attr("x", -2).attr("y", 11.5).attr("dy", null)
  .attr("transform", "rotate(-90)").attr("text-anchor", "end")
  .attr("font-family", mono).attr("font-size", 10).attr("fill", "#000");

// texts
const txt = (s, tx, ty, opts = {}) => svg.append("text").attr("x", tx).attr("y", ty)
  .attr("font-family", mono).attr("font-size", opts.size || 10)
  .attr("font-weight", opts.bold ? "bold" : "normal").attr("fill", "#000").text(s);

txt("Températures 2m", 60, 227);
txt("Précipitations", 60, 475);
txt("(°C)", 20, 613);
txt("(mm)", 710, 612);

// legend
svg.append("line").attr("x1", 35).attr("x2", 65).attr("y1", 647).attr("y2", 647).attr("stroke", "#ff0000").attr("stroke-width", 4);
txt("Moyenne des scénarios", 75, 651);
svg.append("line").attr("x1", 225).attr("x2", 256).attr("y1", 637).attr("y2", 637).attr("stroke", "#0000ff").attr("stroke-width", 4);
txt("Run de contrôle", 265, 641);
svg.append("line").attr("x1", 225).attr("x2", 256).attr("y1", 647).attr("y2", 647).attr("stroke", "#000").attr("stroke-width", 4);
txt("Run GFS", 265, 651);
txt("Altitude du modele : 4m", 180, 664);

txt("20 Perturbations", 370, 655);
const lg = svg.append("g");
lg.selectAll("rect").data(memberNames).join("rect")
  .attr("x", (d, i) => 470 + 11 * i).attr("y", 650).attr("width", 10).attr("height", 6)
  .attr("fill", (d, i) => memberColors[i]);
lg.selectAll("text").data(memberNames).join("text")
  .attr("x", (d, i) => 475 + 11 * i).attr("y", 646).attr("text-anchor", "middle")
  .attr("font-family", mono).attr("font-size", 8).attr("fill", "#000").text(d => d);

svg.append("rect").attr("x", 20.5).attr("y", 667.5).attr("width", 420).attr("height", 31.5)
  .attr("fill", "none").attr("stroke", "#000").attr("stroke-width", 1.5);
txt("Diagramme des ensembles GEFS sur 384h : 52.1N 5.2E", 30, 681, {bold: true, size: 11.8});
txt("Température 2m (°C) , précipitations (mm)", 30, 695);
txt("Ensemble GEFS du 05/12/2017 - 12Z", 450, 675);
txt("Copyright 2017 Meteociel.fr", 450, 696, {bold: true, size: 11.6});
</script>
</body></html>
